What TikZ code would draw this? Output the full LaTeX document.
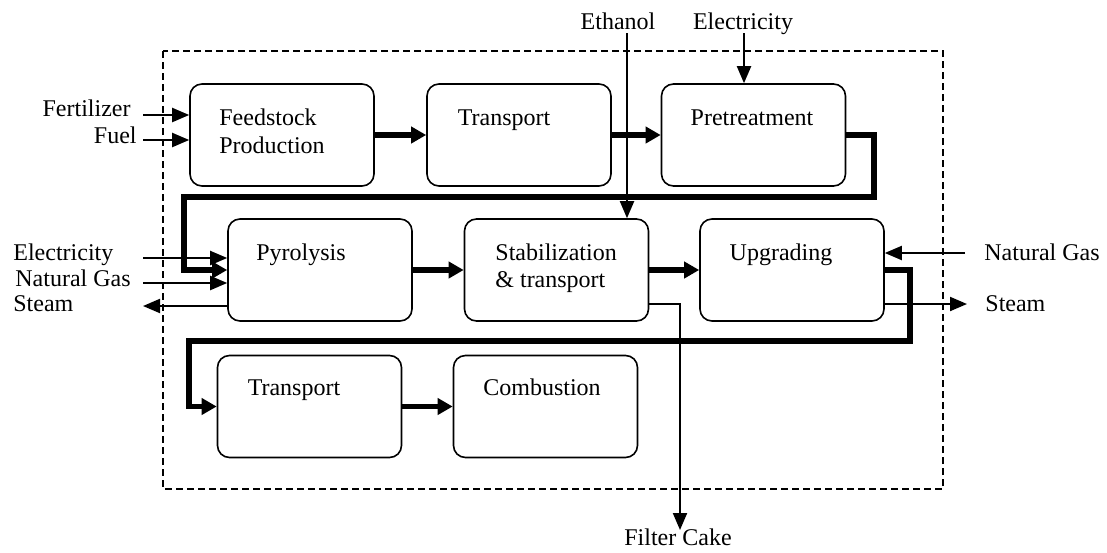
\documentclass[tikz,border=0pt]{standalone}
\usepackage{fontspec}
\setmainfont{Liberation Serif}
\usepackage{tikz}
\usetikzlibrary{arrows.meta}

\tikzset{
  blk/.style={draw, rounded corners=6pt, line width=0.8pt, minimum width=92pt, minimum height=51pt, inner sep=0pt},
  txt/.style={font=\fontsize{12}{14}\selectfont, inner sep=0pt, anchor=base},
  flow/.style={line width=1pt, -{Triangle[length=8.5pt,width=7pt]}},
  mainflow/.style={line width=2.6pt, -{Triangle[length=7.5pt,width=8pt]}}
}

\begin{document}
\begin{tikzpicture}[x=0.5pt,y=-0.5pt]
\useasboundingbox (0,0) rectangle (1107,552);
\coordinate (fert) at (143,115);
\coordinate (fuel) at (143,140);
\coordinate (eth) at (627,33);
\coordinate (elec) at (744,33);
\coordinate (elecL) at (143,258);
\coordinate (gasL) at (143,283);
\coordinate (steamL) at (143,306);
\coordinate (gasR) at (965,253);
\coordinate (steamR) at (967,304);
\coordinate (cake) at (680,304);
\coordinate (cakeend) at (680,530);
\coordinate (ra) at (874,197);
\coordinate (rb) at (184,270);
\coordinate (rc) at (910,341);
\coordinate (rd) at (189,406.5);
% system boundary
\draw[line width=0.9pt, dash pattern=on 3.5pt off 2pt] (163,51) rectangle (943,489);
% draws process boxes
\node[blk] (feed) at (282,135) {};
\node[blk] (trans) at (519,135) {};
\node[blk] (pretreat) at (753.5,135) {};
\node[blk] (pyro) at (320,270) {};
\node[blk] (stab) at (556.5,270) {};
\node[blk] (upgrade) at (792,270) {};
\node[blk] (transb) at (309.5,406.5) {};
\node[blk] (comb) at (545.5,406.5) {};
% labels boxes
\node[txt, anchor=base west] (tfeed) at (219,125) {Feedstock};
\node[txt, anchor=base west] (tprod) at (219,153) {Production};
\node[txt] (ttrans) at (504,125) {Transport};
\node[txt] (tpre) at (752,125) {Pretreatment};
\node[txt] (tpyro) at (301,260) {Pyrolysis};
\node[txt, anchor=base west] (tstab) at (495,260) {Stabilization};
\node[txt, anchor=base west] (tstabb) at (495,287) {\& transport};
\node[txt] (tupg) at (781,260) {Upgrading};
\node[txt] (ttransb) at (294,395) {Transport};
\node[txt] (tcomb) at (542,395) {Combustion};
% labels inputs and outputs
\node[txt, anchor=base east] (lfert) at (131,116) {Fertilizer};
\node[txt, anchor=base east] (lfuel) at (137,143) {Fuel};
\node[txt] (leth) at (618,29) {Ethanol};
\node[txt] (lelec) at (743,29) {Electricity};
\node[txt, anchor=base west] (lelecL) at (13,260) {Electricity};
\node[txt, anchor=base west] (lgasL) at (15,286) {Natural Gas};
\node[txt, anchor=base west] (lsteamL) at (13,311) {Steam};
\node[txt, anchor=base west] (lgasR) at (984,260) {Natural Gas};
\node[txt, anchor=base west] (lsteamR) at (985,311) {Steam};
\node[txt] (lcake) at (678,545) {Filter Cake};
% draws main flow
\draw[mainflow] (feed) -- (trans);
\draw[mainflow] (trans) -- (pretreat);
\draw[mainflow] (pretreat.east) -| (ra) -| (rb) -- (pyro.west);
\draw[mainflow] (pyro) -- (stab);
\draw[mainflow] (stab) -- (upgrade);
\draw[mainflow] (upgrade.east) -| (rc) -| (rd) -- (transb.west);
\draw[mainflow] (transb) -- (comb);
% draws inputs and outputs
\draw[flow] (fert) -- (fert -| feed.west);
\draw[flow] (fuel) -- (fuel -| feed.west);
\draw[flow] (eth) -- (eth |- stab.north);
\draw[flow] (elec) -- (elec |- pretreat.north);
\draw[flow] (elecL) -- (elecL -| pyro.west);
\draw[flow] (gasL) -- (gasL -| pyro.west);
\draw[flow] (steamL -| pyro.west) -- (steamL);
\draw[flow] (gasR) -- (gasR -| upgrade.east);
\draw[flow] (steamR -| upgrade.east) -- (steamR);
\draw[flow] (cake -| stab.east) -- (cake) -- (cakeend);
\end{tikzpicture}
\end{document}
